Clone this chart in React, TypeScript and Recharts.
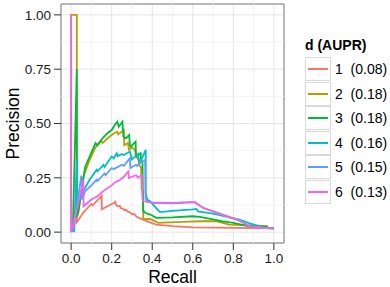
import { CartesianGrid, Legend, Line, LineChart, ReferenceArea, ReferenceLine, XAxis, YAxis } from "recharts";

const seriesNames = ["1", "2", "3", "4", "5", "6"];
const auprValues = ["0.08", "0.18", "0.18", "0.16", "0.15", "0.13"];
const colors = ["#F8766D", "#B79F00", "#00BA38", "#00BFC4", "#619CFF", "#F564E3"];

const xTicks = [0, 0.2, 0.4, 0.6, 0.8, 1];
const yTicks = [0, 0.25, 0.5, 0.75, 1];
const xMinor = [0.1, 0.3, 0.5, 0.7, 0.9];
const yMinor = [0.125, 0.375, 0.625, 0.875];

// recall / precision pairs
const r1 = [0.028, 0.028, 0.06, 0.10, 0.105, 0.151, 0.151, 0.212, 0.217, 0.222, 0.228, 0.24, 0.245, 0.255, 0.262, 0.27, 0.28, 0.29, 0.302, 0.31, 0.322, 0.33, 0.343, 0.36, 0.389, 0.42, 0.5, 0.6, 0.7, 0.8, 0.9, 1.0];
const p1 = [0.25, 0.045, 0.09, 0.13, 0.122, 0.167, 0.105, 0.135, 0.14, 0.125, 0.119, 0.121, 0.11, 0.108, 0.1, 0.104, 0.094, 0.091, 0.081, 0.084, 0.072, 0.068, 0.062, 0.055, 0.045, 0.035, 0.028, 0.022, 0.021, 0.02, 0.019, 0.017];

const r2 = [0, 0, 0.028, 0.028, 0.036, 0.061, 0.09, 0.12, 0.13, 0.15, 0.155, 0.19, 0.212, 0.228, 0.232, 0.26, 0.262, 0.28, 0.285, 0.30, 0.315, 0.32, 0.332, 0.335, 0.34, 0.345, 0.348, 0.353, 0.356, 0.39, 0.43, 0.55, 0.635, 0.72, 0.78, 0.9, 0.97];
const p2 = [0, 1, 1, 0.07, 0.089, 0.256, 0.33, 0.39, 0.40, 0.42, 0.41, 0.44, 0.455, 0.462, 0.45, 0.47, 0.40, 0.41, 0.38, 0.39, 0.378, 0.35, 0.333, 0.31, 0.302, 0.30, 0.195, 0.19, 0.06, 0.061, 0.043, 0.047, 0.05, 0.05, 0.035, 0.03, 0.027];

const r3 = [0.008, 0.028, 0.028, 0.036, 0.069, 0.12, 0.13, 0.154, 0.179, 0.2, 0.22, 0.228, 0.235, 0.253, 0.258, 0.27, 0.286, 0.29, 0.294, 0.318, 0.32, 0.343, 0.345, 0.352, 0.355, 0.365, 0.39, 0.42, 0.5, 0.6, 0.635, 0.75, 0.8, 0.88, 0.97];
const p3 = [0, 0.75, 0.07, 0.1, 0.30, 0.41, 0.40, 0.432, 0.455, 0.47, 0.5, 0.508, 0.485, 0.508, 0.44, 0.432, 0.447, 0.40, 0.394, 0.417, 0.35, 0.363, 0.33, 0.32, 0.1, 0.089, 0.081, 0.066, 0.068, 0.073, 0.07, 0.05, 0.043, 0.027, 0.025];

const r4 = [0.015, 0.028, 0.028, 0.061, 0.09, 0.126, 0.13, 0.16, 0.165, 0.2, 0.21, 0.225, 0.23, 0.25, 0.26, 0.29, 0.3, 0.33, 0.335, 0.34, 0.368, 0.368, 0.375, 0.389, 0.438, 0.5, 0.6, 0.619, 0.625, 0.7, 0.83, 0.88, 0.95, 1.0];
const p4 = [0, 0.33, 0.12, 0.19, 0.24, 0.287, 0.28, 0.31, 0.30, 0.348, 0.34, 0.363, 0.35, 0.36, 0.355, 0.371, 0.335, 0.36, 0.33, 0.32, 0.379, 0.18, 0.15, 0.142, 0.092, 0.098, 0.105, 0.107, 0.095, 0.085, 0.058, 0.04, 0.022, 0.018];

const r5 = [0.01, 0.05, 0.055, 0.069, 0.1, 0.126, 0.13, 0.165, 0.17, 0.2, 0.21, 0.25, 0.26, 0.29, 0.292, 0.32, 0.325, 0.34, 0.365, 0.367, 0.375, 0.4, 0.5, 0.61, 0.65, 0.72, 0.816, 0.85, 0.88, 0.95, 1.0];
const p5 = [0, 0.26, 0.15, 0.188, 0.215, 0.241, 0.235, 0.27, 0.262, 0.295, 0.29, 0.31, 0.305, 0.34, 0.295, 0.31, 0.305, 0.318, 0.333, 0.15, 0.14, 0.135, 0.133, 0.138, 0.112, 0.09, 0.058, 0.043, 0.028, 0.02, 0.016];

const r6 = [0, 0, 0, 0.061, 0.061, 0.1, 0.13, 0.16, 0.2, 0.212, 0.24, 0.26, 0.282, 0.285, 0.30, 0.32, 0.33, 0.348, 0.352, 0.356, 0.4, 0.5, 0.6, 0.61, 0.65, 0.72, 0.816, 0.85, 0.88, 0.95, 1.0];
const p6 = [0, 1, 0, 0.24, 0.119, 0.15, 0.165, 0.19, 0.215, 0.226, 0.24, 0.255, 0.279, 0.249, 0.255, 0.262, 0.25, 0.264, 0.15, 0.142, 0.137, 0.135, 0.138, 0.137, 0.112, 0.089, 0.058, 0.043, 0.027, 0.02, 0.016];

const recalls = [r1, r2, r3, r4, r5, r6];
const precisions = [p1, p2, p3, p4, p5, p6];

const series = recalls.map((rs, i) => rs.map((r, j) => ({ r, p: precisions[i][j] })));

const font = "'Liberation Sans', Arial, sans-serif";

function PrLegend() {
    return (
        <div style={{ fontFamily: font, color: "#000", textAlign: "left", position: "relative", width: 85, height: 175 }}>
            <div style={{ fontWeight: "bold", fontSize: 14, height: 21, lineHeight: "20px" }}>d (AUPR)</div>
            {seriesNames.map((n, i) => (
                <div
                    key={n}
                    style={{ position: "absolute", left: 0, top: Math.round(22 + i * 24.5), display: "flex", alignItems: "center", height: 24 }}
                >
                    <div style={{ width: 26, height: 24, border: "1px solid #D9D9D9", boxSizing: "border-box", position: "relative", background: "#fff" }}>
                        <div style={{ position: "absolute", left: 2, right: 2, top: 10, height: 2, background: colors[i] }} />
                    </div>
                    <span style={{ marginLeft: 4, fontSize: 14, whiteSpace: "pre" }}>{`${n}  (${auprValues[i]})`}</span>
                </div>
            ))}
        </div>
    );
}

export default function App() {
    return (
        <div style={{ position: "absolute", left: 0, top: 0, width: 390, height: 287, background: "#fff" }}>
            <LineChart width={390} height={287} margin={{ top: 4, right: 106, bottom: 0, left: 0 }}>
                <CartesianGrid stroke="#E5E5E5" strokeWidth={1} />
                {xMinor.map((v) => (
                    <ReferenceLine key={`x${v}`} x={v} stroke="#F2F2F2" strokeWidth={1} />
                ))}
                {yMinor.map((v) => (
                    <ReferenceLine key={`y${v}`} y={v} stroke="#F2F2F2" strokeWidth={1} />
                ))}
                <XAxis
                    type="number"
                    dataKey="r"
                    domain={[-0.05, 1.05]}
                    allowDataOverflow
                    ticks={xTicks}
                    tickFormatter={(v: number) => v.toFixed(1)}
                    height={44}
                    tickSize={7}
                    tickMargin={3}
                    axisLine={false}
                    tickLine={{ stroke: "#333" }}
                    tick={{ fill: "#1a1a1a", fontSize: 13.5, fontFamily: font }}
                    label={{ value: "Recall", position: "insideBottom", offset: 4, fill: "#000", fontSize: 17.5, fontFamily: font }}
                />
                <YAxis
                    type="number"
                    dataKey="p"
                    domain={[-0.05, 1.05]}
                    allowDataOverflow
                    ticks={yTicks}
                    tickFormatter={(v: number) => v.toFixed(2)}
                    width={61}
                    tickSize={7}
                    tickMargin={3}
                    axisLine={false}
                    tickLine={{ stroke: "#333" }}
                    tick={{ fill: "#1a1a1a", fontSize: 13.5, fontFamily: font }}
                    label={{ value: "Precision", angle: -90, position: "insideLeft", offset: 13, fill: "#000", fontSize: 17.5, fontFamily: font, style: { textAnchor: "middle" } }}
                />
                {series.map((d, i) => (
                    <Line
                        key={seriesNames[i]}
                        data={d}
                        dataKey="p"
                        name={seriesNames[i]}
                        type="linear"
                        stroke={colors[i]}
                        strokeWidth={1.8}
                        dot={false}
                        activeDot={false}
                        isAnimationActive={false}
                    />
                ))}
                <ReferenceArea x1={-0.05} x2={1.05} y1={-0.05} y2={1.05} fill="none" stroke="#7F7F7F" strokeWidth={1} ifOverflow="visible" />
                <Legend
                    layout="vertical"
                    align="center"
                    verticalAlign="middle"
                    wrapperStyle={{ position: "absolute", left: 305, top: 35, width: 85 }}
                    content={() => <PrLegend />}
                />
            </LineChart>
        </div>
    );
}
